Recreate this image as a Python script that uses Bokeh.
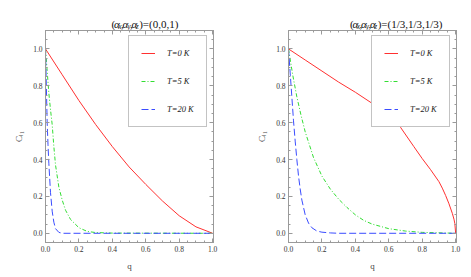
from bokeh.plotting import figure
from bokeh.layouts import row, column
from bokeh.models import (FixedTicker, PrintfTickFormatter, Legend, LegendItem,
                          LinearAxis, Range1d)
from bokeh.core.properties import value
from bokeh.embed import file_html
from bokeh.resources import INLINE

# ---------------- data ----------------
# left panel: (ax, ay, az) = (0, 0, 1)
q_l_t0 = [0.0, 0.1, 0.2, 0.3, 0.4, 0.5, 0.6, 0.7, 0.8, 0.9, 1.0]
c_l_t0 = [1.0, 0.86, 0.72, 0.59, 0.47, 0.36, 0.265, 0.175, 0.095, 0.035, 0.0]

q_l_t5 = [0.0, 0.01, 0.02, 0.03, 0.04, 0.05, 0.06, 0.08, 0.1, 0.12, 0.15, 0.2, 0.25, 0.3, 0.4, 1.0]
c_l_t5 = [1.0, 0.88, 0.76, 0.67, 0.59, 0.47, 0.37, 0.25, 0.18, 0.125, 0.075, 0.03, 0.01, 0.004, 0.001, 0.0]

q_l_t20 = [0.0, 0.005, 0.01, 0.015, 0.02, 0.03, 0.04, 0.05, 0.06, 0.08, 0.1, 1.0]
c_l_t20 = [1.0, 0.8, 0.6, 0.48, 0.38, 0.22, 0.12, 0.06, 0.025, 0.005, 0.0, 0.0]

# right panel: (ax, ay, az) = (1/3, 1/3, 1/3)
q_r_t0 = [0.0, 0.1, 0.2, 0.3, 0.4, 0.5, 0.6, 0.67, 0.75, 0.8, 0.85, 0.9, 0.92, 0.94,
          0.96, 0.98, 0.99, 0.995, 1.0]
c_r_t0 = [1.0, 0.94, 0.88, 0.82, 0.765, 0.705, 0.64, 0.575, 0.47, 0.405, 0.345, 0.28, 0.245, 0.205,
          0.16, 0.108, 0.076, 0.053, 0.0]

q_r_t5 = [0.0, 0.025, 0.05, 0.075, 0.1, 0.15, 0.2, 0.25, 0.3, 0.35, 0.4, 0.45, 0.5, 0.6, 0.7, 0.8, 1.0]
c_r_t5 = [1.0, 0.86, 0.74, 0.64, 0.55, 0.41, 0.31, 0.24, 0.185, 0.14, 0.10, 0.07, 0.05, 0.025, 0.012, 0.005, 0.0]

q_r_t20 = [0.0, 0.01, 0.02, 0.03, 0.04, 0.05, 0.06, 0.07, 0.08, 0.1, 0.12, 0.14, 0.17, 0.2, 0.25, 0.3, 1.0]
c_r_t20 = [1.0, 0.87, 0.74, 0.61, 0.50, 0.40, 0.31, 0.24, 0.18, 0.10, 0.055, 0.03, 0.012, 0.006, 0.002, 0.0, 0.0]

legend_labels = ["T=0 K", "T=5 K", "T=20 K"]
x_ticks = [0.0, 0.2, 0.4, 0.6, 0.8, 1.0]
y_ticks = [0.0, 0.2, 0.4, 0.6, 0.8, 1.0]
minor_ticks = [round(-0.05 + 0.05 * i, 2) for i in range(24)]

title_left_vals = "0,0,1"
title_right_vals = "1/3,1/3,1/3"

# ---------------- styling ----------------
SERIF = "Liberation Serif"
FRAME = "#9a9a9a"
RED, GREEN, BLUE = "#ff3030", "#33dd33", "#3a4cff"

XR = (0.0, 1.005)
YR = (-0.05, 1.1)
FW, FH = 168, 212
TOP = 30          # height of the title strip above each frame
H = 276


def style_axis(ax):
    ax.axis_line_color = FRAME
    ax.major_tick_line_color = FRAME
    ax.minor_tick_line_color = FRAME
    ax.major_tick_in = 4
    ax.major_tick_out = 0
    ax.minor_tick_in = 2
    ax.minor_tick_out = 0
    ax.major_label_text_font = SERIF
    ax.major_label_text_font_size = "7.5px"
    ax.major_label_text_color = "#333333"
    ax.major_label_standoff = 3
    ax.formatter = PrintfTickFormatter(format="%.1f")


def tick_only_axis(p, side, positions, length):
    # an axis with no major ticks (hence no labels): its "minor" ticks are drawn
    ax = LinearAxis(ticker=FixedTicker(ticks=[], minor_ticks=positions))
    ax.axis_line_color = FRAME
    ax.minor_tick_line_color = FRAME
    ax.minor_tick_in = length
    ax.minor_tick_out = 0
    ax.major_tick_in = 0
    ax.major_tick_out = 0
    ax.major_label_standoff = 0
    p.add_layout(ax, side)


def make_title(width, start, vals):
    t = figure(width=width, height=TOP, x_range=Range1d(0, width),
               y_range=Range1d(TOP, 0), output_backend="svg",
               toolbar_location=None, x_axis_type=None, y_axis_type=None,
               min_border_left=0, min_border_right=0, min_border_top=0,
               min_border_bottom=0)
    t.grid.visible = False
    t.outline_line_color = None
    base, sub = 23.5, 25.5
    # (text, x offset, style, size, baseline)
    pieces = [("(", 0.0, "normal", "11px", base),
              ("α", 3.4, "italic", "11px", base),
              ("x", 9.4, "italic", "7.5px", sub),
              (",", 13.2, "normal", "11px", base),
              ("α", 15.4, "italic", "11px", base),
              ("y", 22.0, "italic", "7.5px", sub),
              (",", 25.8, "normal", "11px", base),
              ("α", 28.0, "italic", "11px", base),
              ("z", 34.0, "italic", "7.5px", sub),
              (")=(" + vals + ")", 38.7, "normal", "11px", base)]
    for txt, dx, style, size, y in pieces:
        t.text(x=[start + dx], y=[y], text=[txt], text_font=value(SERIF),
               text_font_style=style, text_font_size=value(size),
               text_color="#111111", text_baseline="alphabetic",
               text_align="left")
    return t


def make_panel(data, left_border, right_border):
    p = figure(width=left_border + FW + right_border, height=H - TOP,
               x_range=XR, y_range=YR, output_backend="svg",
               toolbar_location=None,
               min_border_left=left_border, min_border_right=right_border,
               min_border_top=0, min_border_bottom=H - TOP - FH)
    p.grid.visible = False
    p.outline_line_color = FRAME
    p.background_fill_color = "white"

    for ax in p.xaxis:
        style_axis(ax)
        ax.ticker = FixedTicker(ticks=x_ticks, minor_ticks=minor_ticks)
        ax.axis_label = "q"
        ax.axis_label_text_font = SERIF
        ax.axis_label_text_font_style = "normal"
        ax.axis_label_text_font_size = "9px"
        ax.axis_label_standoff = 6
    for ax in p.yaxis:
        style_axis(ax)
        ax.ticker = FixedTicker(ticks=y_ticks, minor_ticks=minor_ticks)
        ax.axis_label = "Cₗ₁"
        ax.axis_label_text_font = SERIF
        ax.axis_label_text_font_style = "normal"
        ax.axis_label_text_font_size = "9px"
        ax.axis_label_standoff = 6

    tick_only_axis(p, "above", x_ticks, 4)
    tick_only_axis(p, "above", minor_ticks, 2)
    tick_only_axis(p, "right", y_ticks, 4)
    tick_only_axis(p, "right", minor_ticks, 2)

    (q0, c0), (q5, c5), (q20, c20) = data
    r0 = p.line(q0, c0, line_color=RED, line_width=1)
    r5 = p.line(q5, c5, line_color=GREEN, line_width=1, line_dash="4 2 1 2")
    r20 = p.line(q20, c20, line_color=BLUE, line_width=1, line_dash="7 3")

    legend = Legend(items=[LegendItem(label=legend_labels[0], renderers=[r0]),
                           LegendItem(label=legend_labels[1], renderers=[r5]),
                           LegendItem(label=legend_labels[2], renderers=[r20])],
                    location=(83, 115), padding=12, spacing=18,
                    label_height=10, glyph_height=10, glyph_width=14,
                    label_standoff=12, margin=0,
                    label_text_font=SERIF, label_text_font_style="italic",
                    label_text_font_size="8.5px", label_text_color="#222222",
                    border_line_color="#888888", border_line_width=1,
                    background_fill_color="white", background_fill_alpha=1)
    p.add_layout(legend)
    return p


W1 = 45 + FW + 22
W2 = 53 + FW + 14
p1 = make_panel([(q_l_t0, c_l_t0), (q_l_t5, c_l_t5), (q_l_t20, c_l_t20)], 45, 22)
p2 = make_panel([(q_r_t0, c_r_t0), (q_r_t5, c_r_t5), (q_r_t20, c_r_t20)], 53, 14)
t1 = make_title(W1, 92.3, title_left_vals)
t2 = make_title(W2, 321 - W1, title_right_vals)

layout = row(column(t1, p1, spacing=0), column(t2, p2, spacing=0), spacing=0)
open("out.html", "w").write(file_html(layout, INLINE))
